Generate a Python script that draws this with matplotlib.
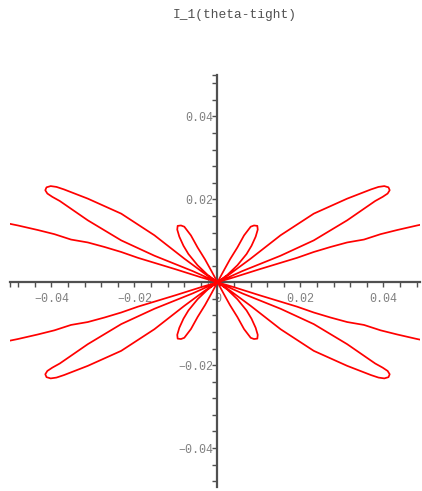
import numpy as np
import matplotlib
matplotlib.use('Agg')
import matplotlib.pyplot as plt
from matplotlib.ticker import FixedLocator, FuncFormatter

# first-quadrant traces of the pattern (x, y); the rest follows by symmetry
outer_x = [0.0530, 0.0481, 0.0433, 0.0393, 0.0353, 0.03125, 0.0272, 0.0232, 0.0192, 0.0169, 0.0100, 0.0040, 0.0]
outer_y = [0.0147, 0.0137, 0.0126, 0.0116, 0.0103, 0.0096, 0.0085, 0.0073, 0.0059, 0.0052, 0.0031, 0.0012, 0.0]

big_x = [0.0, 0.0060, 0.0152, 0.0232, 0.03125, 0.0380, 0.0398, 0.0410, 0.0415, 0.0412, 0.0402,
         0.0388, 0.0370, 0.03125, 0.0232, 0.0152, 0.0080, 0.0030, 0.0]
big_y = [0.0, 0.0027, 0.0064, 0.0101, 0.01494, 0.0196, 0.0206, 0.0214, 0.0222, 0.0229, 0.0232,
         0.0230, 0.0224, 0.02017, 0.01655, 0.01133, 0.0057, 0.0020, 0.0]

small_x = [0.0, 0.0024, 0.0048, 0.0070, 0.0082, 0.0092, 0.0097, 0.0096, 0.0088, 0.0080,
           0.0064, 0.0048, 0.0030, 0.0014, 0.0]
small_y = [0.0, 0.0018, 0.0041, 0.0068, 0.0088, 0.0110, 0.0127, 0.0136, 0.0137, 0.0134,
           0.0113, 0.0084, 0.0055, 0.0026, 0.0]

title = 'I_1(theta-tight)'
major_ticks = [-0.04, -0.02, 0.0, 0.02, 0.04]
xlim = (-0.0500, 0.0488)
ylim = (-0.0494, 0.0500)

q1x = np.array(outer_x + big_x[1:] + small_x[1:])
q1y = np.array(outer_y + big_y[1:] + small_y[1:])
xs = np.concatenate([q1x, -q1x[::-1], -q1x, q1x[::-1]])
ys = np.concatenate([q1y, q1y[::-1], -q1y, -q1y[::-1]])

fig = plt.figure(figsize=(4.22, 4.91), dpi=100)
ax = fig.add_axes([10 / 422, 4 / 491, 410 / 422, 412 / 491])
ax.plot(xs, ys, color='#ff0000', lw=1.25, zorder=3)
ax.set_xlim(*xlim)
ax.set_ylim(*ylim)

axis_col = '#505050'
for s in ['top', 'right']:
    ax.spines[s].set_visible(False)
for s in ['left', 'bottom']:
    ax.spines[s].set_position(('data', 0))
    ax.spines[s].set_color(axis_col)
    ax.spines[s].set_linewidth(1.6)
    ax.spines[s].set_zorder(2)

minor = [round(v, 3) for v in np.arange(-0.048, 0.0481, 0.004)]
ax.xaxis.set_major_locator(FixedLocator(major_ticks))
ax.yaxis.set_major_locator(FixedLocator(major_ticks))
ax.xaxis.set_minor_locator(FixedLocator(minor + [xlim[0]]))
ax.yaxis.set_minor_locator(FixedLocator(minor + [ylim[1]]))

fmt = FuncFormatter(lambda v, p: '0' if abs(v) < 1e-9 else ('%.2f' % v).replace('-', '\u2212'))
ax.xaxis.set_major_formatter(fmt)
ax.yaxis.set_major_formatter(fmt)

ax.tick_params(which='both', direction='out', length=3.6, width=1.0, color=axis_col)
ax.tick_params(axis='x', which='major', pad=4.5)
ax.tick_params(axis='y', which='major', pad=-0.5)
for lab in ax.get_xticklabels() + ax.get_yticklabels():
    lab.set_family('Liberation Mono')
    lab.set_fontsize(8.4)
    lab.set_color('#808080')
ax.patch.set_visible(False)

fig.text(235 / 422, 1 - 15 / 491, title, ha='center', va='center',
         family='Liberation Mono', fontsize=9.3, color='#505050')

fig.savefig('out.png', dpi=100)
